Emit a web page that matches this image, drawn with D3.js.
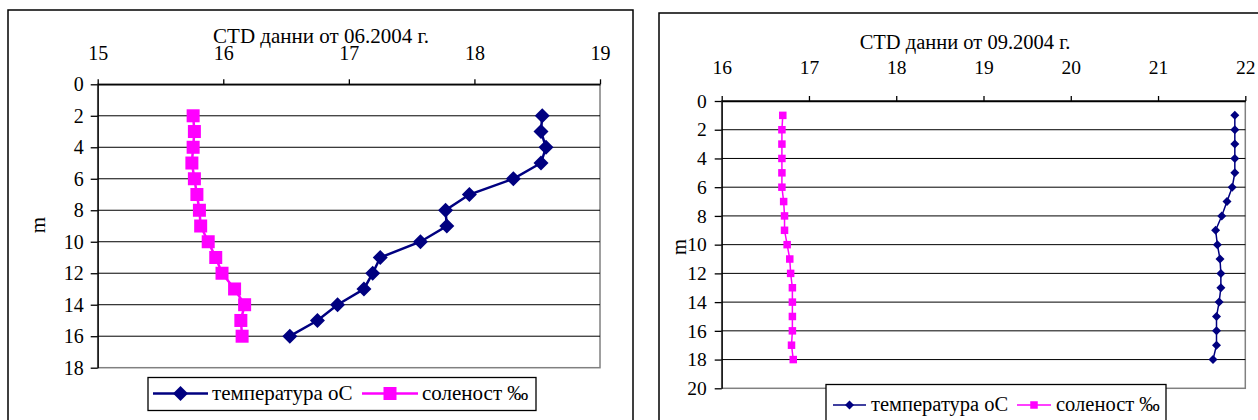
<!DOCTYPE html>
<html>
<head>
<meta charset="utf-8">
<script src="https://cdn.jsdelivr.net/npm/d3@7"></script>
<style>
  html, body { margin: 0; padding: 0; background: #fff; }
</style>
</head>
<body>
<svg id="chart" width="1258" height="420"></svg>
<script>
// June 2004 profile: depth (m), temperature (°C), salinity (‰)
const juneDepth = [2, 3, 4, 5, 6, 7, 8, 9, 10, 11, 12, 13, 14, 15, 16];
const juneTemp = [18.54, 18.53, 18.57, 18.53, 18.31, 17.96, 17.77, 17.78, 17.57, 17.25, 17.19, 17.12, 16.91, 16.75, 16.53];
const juneSal = [15.76, 15.77, 15.76, 15.75, 15.77, 15.79, 15.81, 15.82, 15.88, 15.94, 15.99, 16.09, 16.17, 16.14, 16.15];

// September 2004 profile
const sepDepth = [1, 2, 3, 4, 5, 6, 7, 8, 9, 10, 11, 12, 13, 14, 15, 16, 17, 18];
const sepTemp = [21.88, 21.88, 21.88, 21.88, 21.88, 21.85, 21.79, 21.73, 21.66, 21.68, 21.71, 21.72, 21.72, 21.70, 21.67, 21.67, 21.67, 21.63];
const sepSal = [16.70, 16.69, 16.69, 16.69, 16.69, 16.69, 16.71, 16.72, 16.72, 16.75, 16.78, 16.79, 16.81, 16.81, 16.81, 16.81, 16.80, 16.82];

// Axis tick values
const juneXTicks = [15, 16, 17, 18, 19];
const juneYTicks = [0, 2, 4, 6, 8, 10, 12, 14, 16, 18];
const sepXTicks = [16, 17, 18, 19, 20, 21, 22];
const sepYTicks = [0, 2, 4, 6, 8, 10, 12, 14, 16, 18, 20];

const titles = ["CTD данни от 06.2004 г.", "CTD данни от 09.2004 г."];
const seriesNames = ["температура оС", "соленост ‰"];
const depthLabel = "m";

const TEMP_COLOR = "#000080";
const SAL_COLOR = "#ff00ff";
const FONT = '"Liberation Serif"';

const svg = d3.select("#chart");

function diamondPath(r) {
  return `M0,${-r}L${r},0L0,${r}L${-r},0Z`;
}

function styleText(sel, size) {
  sel.attr("font-family", null).style("font-family", FONT)
     .style("font-size", size + "px").attr("fill", "#000");
}

function drawPanel(cfg) {
  const g = svg.append("g");

  // outer frame
  g.append("rect")
    .attr("x", cfg.frame.x).attr("y", cfg.frame.y)
    .attr("width", cfg.frame.w).attr("height", cfg.frame.h)
    .attr("fill", "#fff").attr("stroke", "#000").attr("stroke-width", 1.5);

  const x = d3.scaleLinear().domain(cfg.xDomain).range([cfg.plot.l, cfg.plot.r]);
  const y = d3.scaleLinear().domain(cfg.yDomain).range([cfg.plot.t, cfg.plot.b]);

  // plot area border
  g.append("rect")
    .attr("x", cfg.plot.l).attr("y", cfg.plot.t)
    .attr("width", cfg.plot.r - cfg.plot.l).attr("height", cfg.plot.b - cfg.plot.t)
    .attr("fill", "none").attr("stroke", "#808080").attr("stroke-width", 1.5);

  // horizontal gridlines
  g.append("g").selectAll("line")
    .data(cfg.yTicks.filter(d => d !== cfg.yDomain[1]))
    .join("line")
    .attr("x1", cfg.plot.l).attr("x2", cfg.plot.r)
    .attr("y1", d => y(d)).attr("y2", d => y(d))
    .attr("stroke", "#000").attr("stroke-width", 1);

  // top value axis
  const xAxis = g.append("g")
    .attr("transform", `translate(0,${cfg.plot.t})`)
    .call(d3.axisTop(x).tickValues(cfg.xTicks).tickFormat(d3.format("d"))
      .tickSize(5).tickPadding(cfg.xPad).tickSizeOuter(0));
  xAxis.attr("font-family", null).attr("font-size", null);
  xAxis.select(".domain").attr("stroke", "#000").attr("stroke-width", 1.3);
  xAxis.selectAll(".tick line").attr("stroke", "#000").attr("stroke-width", 1.3);
  xAxis.selectAll(".tick text").call(styleText, cfg.tickFont);

  // depth axis
  const yAxis = g.append("g")
    .attr("transform", `translate(${cfg.plot.l},0)`)
    .call(d3.axisLeft(y).tickValues(cfg.yTicks).tickFormat(d3.format("d"))
      .tickSize(7).tickPadding(cfg.yPad).tickSizeOuter(0));
  yAxis.attr("font-family", null).attr("font-size", null);
  yAxis.select(".domain").attr("stroke", "#000").attr("stroke-width", 1.3);
  yAxis.selectAll(".tick line").attr("stroke", "#000").attr("stroke-width", 1.3);
  yAxis.selectAll(".tick text").call(styleText, cfg.tickFont);

  // title
  g.append("text")
    .attr("x", cfg.titlePos[0]).attr("y", cfg.titlePos[1])
    .attr("text-anchor", "middle")
    .call(styleText, cfg.fontSize)
    .text(cfg.title);

  // depth label
  g.append("text")
    .attr("transform", `translate(${cfg.mPos[0]},${cfg.mPos[1]}) rotate(-90)`)
    .attr("text-anchor", "middle")
    .call(styleText, cfg.fontSize)
    .text(depthLabel);

  const line = d3.line().x(d => x(d[0])).y(d => y(d[1]));

  // salinity series
  const salPts = cfg.depth.map((d, i) => [cfg.sal[i], d]);
  g.append("path").attr("d", line(salPts))
    .attr("fill", "none").attr("stroke", SAL_COLOR).attr("stroke-width", cfg.lineW);
  g.append("g").selectAll("rect").data(salPts).join("rect")
    .attr("x", d => x(d[0]) - cfg.sq / 2).attr("y", d => y(d[1]) - cfg.sq / 2)
    .attr("width", cfg.sq).attr("height", cfg.sq)
    .attr("fill", SAL_COLOR);

  // temperature series
  const tPts = cfg.depth.map((d, i) => [cfg.temp[i], d]);
  g.append("path").attr("d", line(tPts))
    .attr("fill", "none").attr("stroke", TEMP_COLOR).attr("stroke-width", cfg.lineW);
  g.append("g").selectAll("path").data(tPts).join("path")
    .attr("transform", d => `translate(${x(d[0])},${y(d[1])})`)
    .attr("d", diamondPath(cfg.dia))
    .attr("fill", TEMP_COLOR);

  // legend
  const L = cfg.legend;
  g.append("rect")
    .attr("x", L.x).attr("y", L.y).attr("width", L.w).attr("height", L.h)
    .attr("fill", "#fff").attr("stroke", "#000").attr("stroke-width", 1.3);
  const ly = L.cy;
  // temperature item
  g.append("line").attr("x1", L.t1[0]).attr("x2", L.t1[1]).attr("y1", ly).attr("y2", ly)
    .attr("stroke", TEMP_COLOR).attr("stroke-width", cfg.lineW);
  g.append("path").attr("transform", `translate(${(L.t1[0] + L.t1[1]) / 2},${ly})`)
    .attr("d", diamondPath(cfg.dia)).attr("fill", TEMP_COLOR);
  g.append("text").attr("x", L.t1[2]).attr("y", ly + 6)
    .call(styleText, cfg.fontSize).text(seriesNames[0]);
  // salinity item
  g.append("line").attr("x1", L.s1[0]).attr("x2", L.s1[1]).attr("y1", ly).attr("y2", ly)
    .attr("stroke", SAL_COLOR).attr("stroke-width", cfg.lineW);
  g.append("rect")
    .attr("x", (L.s1[0] + L.s1[1]) / 2 - cfg.sq / 2).attr("y", ly - cfg.sq / 2)
    .attr("width", cfg.sq).attr("height", cfg.sq).attr("fill", SAL_COLOR);
  g.append("text").attr("x", L.s1[2]).attr("y", ly + 6)
    .call(styleText, cfg.fontSize).text(seriesNames[1]);
}

drawPanel({
  frame: { x: 8, y: 10, w: 625, h: 430 },
  plot: { l: 97.7, r: 600, t: 84.3, b: 367.7 },
  xDomain: [15, 19], yDomain: [0, 18],
  xTicks: juneXTicks, yTicks: juneYTicks,
  xPad: 19.3, yPad: 7,
  fontSize: 21, tickFont: 20,
  title: titles[0], titlePos: [321, 43],
  mPos: [45, 225],
  depth: juneDepth, temp: juneTemp, sal: juneSal,
  lineW: 2.5, dia: 7.5, sq: 13,
  legend: { x: 148, y: 377.5, w: 388, h: 33, cy: 393.5, t1: [153, 208, 212], s1: [362, 418, 422] }
});

drawPanel({
  frame: { x: 659, y: 13, w: 620, h: 430 },
  plot: { l: 721.7, r: 1245.3, t: 101, b: 388.3 },
  xDomain: [16, 22], yDomain: [0, 20],
  xTicks: sepXTicks, yTicks: sepYTicks,
  xPad: 22, yPad: 8,
  fontSize: 20.5, tickFont: 19.5,
  title: titles[1], titlePos: [965, 49],
  mPos: [686, 247],
  depth: sepDepth, temp: sepTemp, sal: sepSal,
  lineW: 1.5, dia: 4.5, sq: 7.5,
  legend: { x: 826, y: 384.5, w: 340, h: 46, cy: 405, t1: [833, 866, 871], s1: [1017, 1051, 1056] }
});
</script>
</body>
</html>
